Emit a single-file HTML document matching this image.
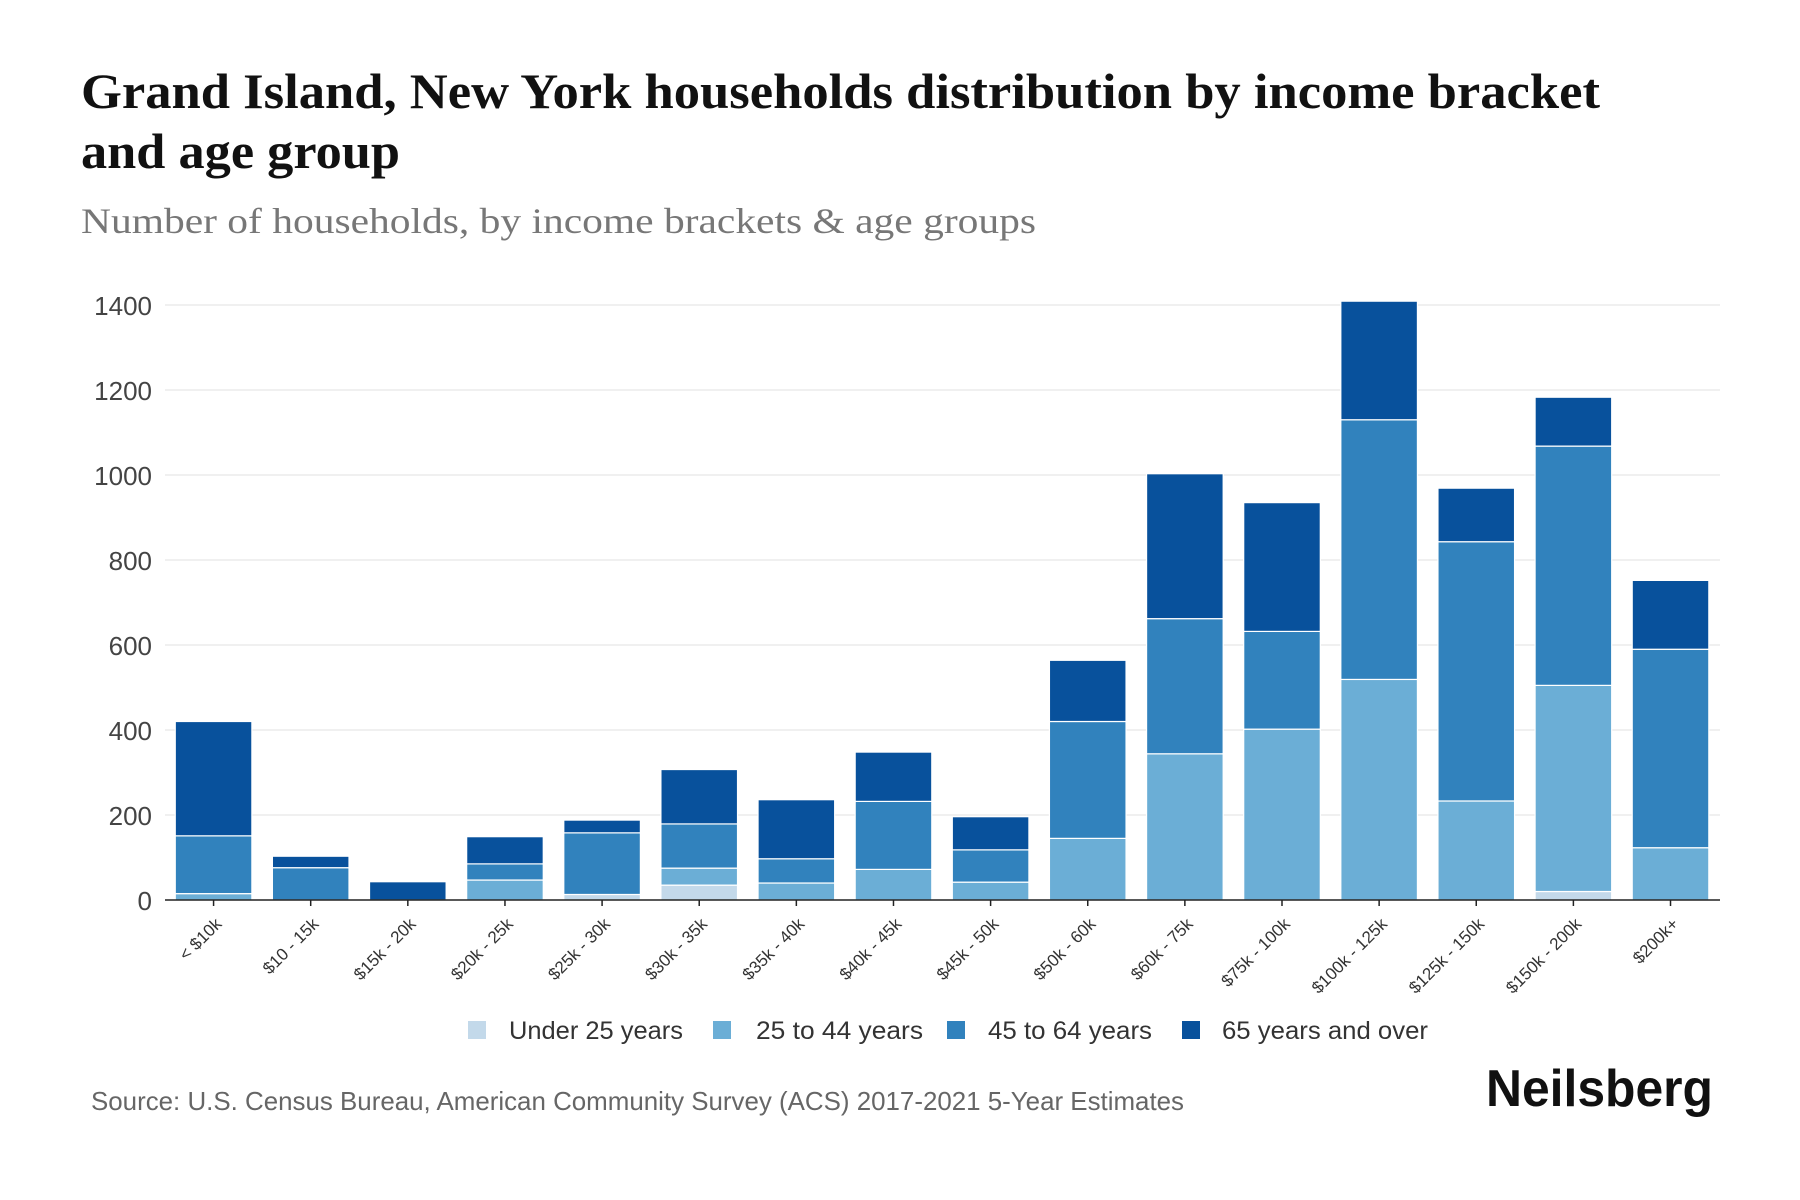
<!DOCTYPE html>
<html>
<head>
<meta charset="utf-8">
<style>
  html, body { margin: 0; padding: 0; background: #ffffff; }
  body { width: 1800px; height: 1200px; overflow: hidden; }
  svg { display: block; }
  .ttl { font-family: "Liberation Serif", serif; font-weight: bold; fill: #111; font-size: 50px; }
  .sub { font-family: "Liberation Serif", serif; fill: #777; font-size: 36px; }
  .yl { font-family: "Liberation Sans", sans-serif; fill: #444; font-size: 26px; }
  .xl { font-family: "Liberation Sans", sans-serif; fill: #333; font-size: 17px; }
  .lg { font-family: "Liberation Sans", sans-serif; fill: #333; font-size: 25px; }
  .ft { font-family: "Liberation Sans", sans-serif; fill: #666; font-size: 26px; }
  .logo { font-family: "Liberation Sans", sans-serif; font-weight: bold; fill: #111; font-size: 52px; }
</style>
</head>
<body>
<svg width="1800" height="1200" viewBox="0 0 1800 1200" xmlns="http://www.w3.org/2000/svg">
  <rect x="0" y="0" width="1800" height="1200" fill="#ffffff"/>

  <!-- Title -->
  <text class="ttl" x="81" y="108" textLength="1519" lengthAdjust="spacingAndGlyphs">Grand Island, New York households distribution by income bracket</text>
  <text class="ttl" x="81" y="168" textLength="319" lengthAdjust="spacingAndGlyphs">and age group</text>
  <text class="sub" x="81" y="233" textLength="955" lengthAdjust="spacingAndGlyphs">Number of households, by income brackets &amp; age groups</text>

  <!-- Gridlines -->
  <g stroke="#ececec" stroke-width="1.5">
    <line x1="165" y1="815" x2="1720" y2="815"/>
    <line x1="165" y1="730" x2="1720" y2="730"/>
    <line x1="165" y1="645" x2="1720" y2="645"/>
    <line x1="165" y1="560" x2="1720" y2="560"/>
    <line x1="165" y1="475" x2="1720" y2="475"/>
    <line x1="165" y1="390" x2="1720" y2="390"/>
    <line x1="165" y1="305" x2="1720" y2="305"/>
  </g>

  <!-- Y labels -->
  <g class="yl" text-anchor="end">
    <text x="152" y="910">0</text>
    <text x="152" y="825">200</text>
    <text x="152" y="740">400</text>
    <text x="152" y="655">600</text>
    <text x="152" y="570">800</text>
    <text x="152" y="485">1000</text>
    <text x="152" y="400">1200</text>
    <text x="152" y="315">1400</text>
  </g>

  <!-- Bars -->
  <g stroke="#ffffff" stroke-width="1.2">
    <!-- 0 -->
    <rect x="175.27" y="893.63" width="76.6" height="6.38" fill="#6baed6"/>
    <rect x="175.27" y="835.83" width="76.6" height="57.8" fill="#3182bd"/>
    <rect x="175.27" y="721.5" width="76.6" height="114.33" fill="#08519c"/>
    <!-- 1 -->
    <rect x="272.40" y="867.7" width="76.6" height="32.3" fill="#3182bd"/>
    <rect x="272.40" y="856.23" width="76.6" height="11.47" fill="#08519c"/>
    <!-- 2 -->
    <rect x="369.53" y="881.73" width="76.6" height="18.28" fill="#08519c"/>
    <!-- 3 -->
    <rect x="466.66" y="880.03" width="76.6" height="19.98" fill="#6baed6"/>
    <rect x="466.66" y="863.88" width="76.6" height="16.15" fill="#3182bd"/>
    <rect x="466.66" y="836.68" width="76.6" height="27.2" fill="#08519c"/>
    <!-- 4 -->
    <rect x="563.79" y="894.48" width="76.6" height="5.53" fill="#c3d9ea"/>
    <rect x="563.79" y="832.85" width="76.6" height="61.63" fill="#3182bd"/>
    <rect x="563.79" y="820.1" width="76.6" height="12.75" fill="#08519c"/>
    <!-- 5 -->
    <rect x="660.92" y="885.13" width="76.6" height="14.88" fill="#c3d9ea"/>
    <rect x="660.92" y="868.13" width="76.6" height="17" fill="#6baed6"/>
    <rect x="660.92" y="823.93" width="76.6" height="44.2" fill="#3182bd"/>
    <rect x="660.92" y="769.53" width="76.6" height="54.4" fill="#08519c"/>
    <!-- 6 -->
    <rect x="758.05" y="883" width="76.6" height="17" fill="#6baed6"/>
    <rect x="758.05" y="858.78" width="76.6" height="24.23" fill="#3182bd"/>
    <rect x="758.05" y="799.7" width="76.6" height="59.08" fill="#08519c"/>
    <!-- 7 -->
    <rect x="855.18" y="869.4" width="76.6" height="30.6" fill="#6baed6"/>
    <rect x="855.18" y="801.4" width="76.6" height="68" fill="#3182bd"/>
    <rect x="855.18" y="752.1" width="76.6" height="49.3" fill="#08519c"/>
    <!-- 8 -->
    <rect x="952.31" y="882.15" width="76.6" height="17.85" fill="#6baed6"/>
    <rect x="952.31" y="849.85" width="76.6" height="32.3" fill="#3182bd"/>
    <rect x="952.31" y="816.7" width="76.6" height="33.15" fill="#08519c"/>
    <!-- 9 -->
    <rect x="1049.44" y="838.38" width="76.6" height="61.63" fill="#6baed6"/>
    <rect x="1049.44" y="721.5" width="76.6" height="116.88" fill="#3182bd"/>
    <rect x="1049.44" y="660.3" width="76.6" height="61.2" fill="#08519c"/>
    <!-- 10 -->
    <rect x="1146.57" y="753.8" width="76.6" height="146.2" fill="#6baed6"/>
    <rect x="1146.57" y="618.65" width="76.6" height="135.15" fill="#3182bd"/>
    <rect x="1146.57" y="473.73" width="76.6" height="144.93" fill="#08519c"/>
    <!-- 11 -->
    <rect x="1243.70" y="729.15" width="76.6" height="170.85" fill="#6baed6"/>
    <rect x="1243.70" y="631.4" width="76.6" height="97.75" fill="#3182bd"/>
    <rect x="1243.70" y="502.63" width="76.6" height="128.78" fill="#08519c"/>
    <!-- 12 -->
    <rect x="1340.83" y="679.43" width="76.6" height="220.58" fill="#6baed6"/>
    <rect x="1340.83" y="419.75" width="76.6" height="259.68" fill="#3182bd"/>
    <rect x="1340.83" y="301.18" width="76.6" height="118.58" fill="#08519c"/>
    <!-- 13 -->
    <rect x="1437.96" y="800.98" width="76.6" height="99.03" fill="#6baed6"/>
    <rect x="1437.96" y="541.73" width="76.6" height="259.25" fill="#3182bd"/>
    <rect x="1437.96" y="488.18" width="76.6" height="53.55" fill="#08519c"/>
    <!-- 14 -->
    <rect x="1535.09" y="891.5" width="76.6" height="8.5" fill="#c3d9ea"/>
    <rect x="1535.09" y="685.38" width="76.6" height="206.13" fill="#6baed6"/>
    <rect x="1535.09" y="446.1" width="76.6" height="239.28" fill="#3182bd"/>
    <rect x="1535.09" y="397.23" width="76.6" height="48.88" fill="#08519c"/>
    <!-- 15 -->
    <rect x="1632.22" y="847.73" width="76.6" height="52.28" fill="#6baed6"/>
    <rect x="1632.22" y="649.25" width="76.6" height="198.48" fill="#3182bd"/>
    <rect x="1632.22" y="580.4" width="76.6" height="68.85" fill="#08519c"/>
  </g>

  <!-- Axis -->
  <line x1="165" y1="900" x2="1720" y2="900" stroke="#222" stroke-width="1.6"/>
  <g stroke="#222" stroke-width="1.5">
    <line x1="213.57" y1="900" x2="213.57" y2="906"/>
    <line x1="310.70" y1="900" x2="310.70" y2="906"/>
    <line x1="407.83" y1="900" x2="407.83" y2="906"/>
    <line x1="504.96" y1="900" x2="504.96" y2="906"/>
    <line x1="602.09" y1="900" x2="602.09" y2="906"/>
    <line x1="699.22" y1="900" x2="699.22" y2="906"/>
    <line x1="796.35" y1="900" x2="796.35" y2="906"/>
    <line x1="893.48" y1="900" x2="893.48" y2="906"/>
    <line x1="990.61" y1="900" x2="990.61" y2="906"/>
    <line x1="1087.74" y1="900" x2="1087.74" y2="906"/>
    <line x1="1184.87" y1="900" x2="1184.87" y2="906"/>
    <line x1="1282.00" y1="900" x2="1282.00" y2="906"/>
    <line x1="1379.13" y1="900" x2="1379.13" y2="906"/>
    <line x1="1476.26" y1="900" x2="1476.26" y2="906"/>
    <line x1="1573.39" y1="900" x2="1573.39" y2="906"/>
    <line x1="1670.52" y1="900" x2="1670.52" y2="906"/>
  </g>

  <!-- X labels -->
  <g class="xl" text-anchor="end">
    <text transform="translate(222.6,925) rotate(-45)">&lt; $10k</text>
    <text transform="translate(319.7,925) rotate(-45)">$10 - 15k</text>
    <text transform="translate(416.8,925) rotate(-45)">$15k - 20k</text>
    <text transform="translate(514.0,925) rotate(-45)">$20k - 25k</text>
    <text transform="translate(611.1,925) rotate(-45)">$25k - 30k</text>
    <text transform="translate(708.2,925) rotate(-45)">$30k - 35k</text>
    <text transform="translate(805.4,925) rotate(-45)">$35k - 40k</text>
    <text transform="translate(902.5,925) rotate(-45)">$40k - 45k</text>
    <text transform="translate(999.6,925) rotate(-45)">$45k - 50k</text>
    <text transform="translate(1096.7,925) rotate(-45)">$50k - 60k</text>
    <text transform="translate(1193.9,925) rotate(-45)">$60k - 75k</text>
    <text transform="translate(1291.0,925) rotate(-45)">$75k - 100k</text>
    <text transform="translate(1388.1,925) rotate(-45)">$100k - 125k</text>
    <text transform="translate(1485.3,925) rotate(-45)">$125k - 150k</text>
    <text transform="translate(1582.4,925) rotate(-45)">$150k - 200k</text>
    <text transform="translate(1679.5,925) rotate(-45)">$200k+</text>
  </g>

  <!-- Legend -->
  <rect x="468" y="1021" width="18" height="18" fill="#c3d9ea"/>
  <text class="lg" x="509" y="1039" textLength="174" lengthAdjust="spacingAndGlyphs">Under 25 years</text>
  <rect x="713" y="1021" width="18" height="18" fill="#6baed6"/>
  <text class="lg" x="756" y="1039" textLength="167" lengthAdjust="spacingAndGlyphs">25 to 44 years</text>
  <rect x="947" y="1021" width="18" height="18" fill="#3182bd"/>
  <text class="lg" x="988" y="1039" textLength="164" lengthAdjust="spacingAndGlyphs">45 to 64 years</text>
  <rect x="1182" y="1021" width="18" height="18" fill="#08519c"/>
  <text class="lg" x="1222" y="1039" textLength="206" lengthAdjust="spacingAndGlyphs">65 years and over</text>

  <!-- Footer -->
  <text class="ft" x="91" y="1110" textLength="1093" lengthAdjust="spacingAndGlyphs">Source: U.S. Census Bureau, American Community Survey (ACS) 2017-2021 5-Year Estimates</text>
  <text class="logo" x="1486" y="1106" textLength="227" lengthAdjust="spacingAndGlyphs">Neilsberg</text>
</svg>
</body>
</html>
